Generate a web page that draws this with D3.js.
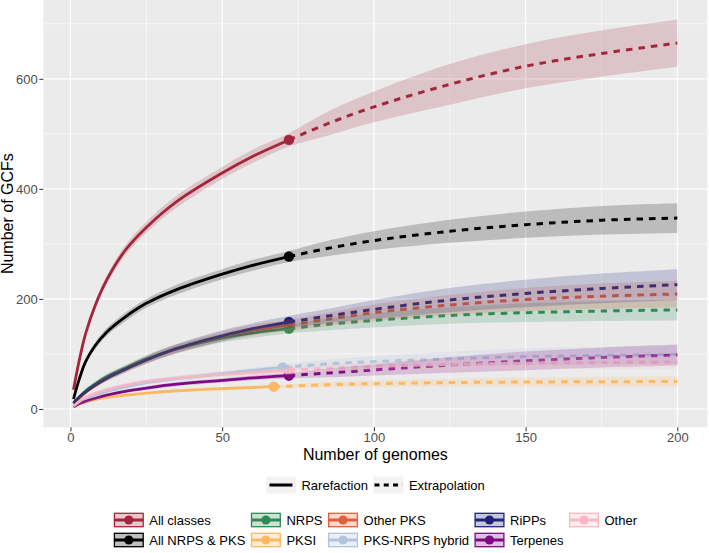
<!DOCTYPE html>
<html>
<head>
<meta charset="utf-8">
<script src="https://cdn.jsdelivr.net/npm/d3@7"></script>
<style>
body { margin: 0; background: #fff; }
text { font-family: "Liberation Sans", Arial, Helvetica, sans-serif; }
</style>
</head>
<body>
<div id="vis"></div>
<script>
// series, in legend order (column by column)
var seriesNames = ["All classes", "All NRPS & PKS", "NRPS", "PKSI", "Other PKS",
                   "PKS-NRPS hybrid", "RiPPs", "Terpenes", "Other"];
var seriesColors = ["#a3263c", "#000000", "#2e8b57", "#fdb862", "#e0603a",
                    "#b0c4de", "#1f2378", "#7d0a84", "#f9b8c4"];
var observedN = [72, 72, 72, 67, 72, 70, 72, 72, 72];

// genomes sampled: rarefaction points, then observed N, then extrapolation
var rareGenomes = [1, 3, 5, 8, 12, 18, 25, 35, 50, 60];
var extrapGenomes = [85, 100, 125, 150, 175, 200];

var allClassesY  = [35, 91, 137, 186, 235, 288, 330, 377, 429, 459, 489, 519, 549, 590, 623, 646, 665];
var allClassesLo = [32, 86, 131, 179, 227, 279, 320, 366, 418, 447, 477, 497, 521, 553, 583, 604, 622];
var allClassesHi = [38, 96, 143, 193, 243, 297, 340, 388, 440, 471, 501, 541, 577, 627, 663, 688, 708];

var allNrpsPksY  = [18, 56, 86, 114, 140, 167, 192, 217, 245, 261, 277, 292, 306, 323, 335, 343, 347];
var allNrpsPksLo = [16, 52, 81, 108, 133, 159, 184, 208, 236, 251, 267, 278, 289, 302, 311, 317, 320];
var allNrpsPksHi = [20, 60, 91, 120, 147, 175, 200, 226, 254, 271, 287, 306, 323, 344, 359, 369, 374];

var nrpsY  = [10, 22, 33, 45, 59, 74, 91, 109, 129, 138, 146, 154, 161, 170, 175, 178, 180];
var nrpsLo = [9, 20, 30, 41, 54, 68, 84, 101, 121, 129, 137, 143, 148, 155, 158, 160, 161];
var nrpsHi = [11, 24, 36, 49, 64, 80, 98, 117, 137, 147, 155, 165, 174, 185, 192, 196, 199];

var pksiY  = [3, 9, 13, 17, 21, 25, 29, 33, 37, 39, 40.5, 44, 46, 48, 49, 49.5, 50];
var pksiLo = [2, 8, 11.5, 15.5, 19, 23, 26.5, 30.5, 34, 36, 37.5, 39, 40, 41, 41, 40.5, 40.5];
var pksiHi = [4, 10, 14.5, 18.5, 23, 27, 31.5, 35.5, 40, 42, 43.5, 49, 52, 55, 57, 58.5, 59.5];

var otherPksY  = [9, 20, 30, 42, 56, 72, 89, 109, 132, 143, 152, 163, 175, 189, 199, 205, 209];
var otherPksLo = [8, 18, 27, 38, 51, 66, 82, 101, 123, 133, 142, 151, 160, 171, 178, 182, 185];
var otherPksHi = [10, 22, 33, 46, 61, 78, 96, 117, 141, 153, 162, 175, 190, 207, 220, 228, 233];

var hybridY  = [4, 12, 18, 25, 32, 40, 48, 55, 64, 70, 75.5, 82, 86, 91, 95, 97, 99];
var hybridLo = [3, 10, 16, 22, 29, 36, 44, 50, 59, 65, 69.5, 74, 76, 78, 80, 81, 82];
var hybridHi = [5, 14, 20, 28, 35, 44, 52, 60, 69, 75, 81.5, 90, 96, 104, 110, 113, 116];

var rippsY  = [11, 22, 31, 43, 56, 72, 89, 110, 133, 146, 158, 169, 181, 198, 210, 219, 226];
var rippsLo = [10, 20, 28, 39, 51, 66, 82, 102, 123, 136, 147, 156, 164, 176, 185, 192, 198];
var rippsHi = [12, 24, 34, 47, 61, 78, 96, 118, 143, 156, 169, 182, 198, 220, 235, 246, 254];

var terpenesY  = [4, 10, 14, 19, 25, 32, 38, 45, 52, 56.5, 60.5, 65.5, 71, 80, 87.5, 93.5, 98];
var terpenesLo = [3, 9, 12.5, 17, 23, 29.5, 35, 41.5, 48, 52, 55.5, 57.5, 61, 66, 70.5, 75.5, 79];
var terpenesHi = [5, 11, 15.5, 21, 27, 34.5, 41, 48.5, 56, 61, 65.5, 73.5, 81, 94, 104.5, 111.5, 117];

var otherY  = [5, 14, 21, 28, 35, 43, 50, 56, 63, 66, 70, 74, 77.5, 81, 83, 84.5, 85];
var otherLo = [4, 12, 19, 25, 32, 39, 46, 52, 58, 61, 65, 68, 69.5, 71, 72, 72.5, 73];
var otherHi = [6, 16, 23, 31, 38, 47, 54, 60, 68, 71, 75, 80, 85.5, 91, 94, 96.5, 97];

var xTicks = [0, 50, 100, 150, 200];
var xMinor = [25, 75, 125, 175];
var yTicks = [0, 200, 400, 600];
var yMinor = [100, 300, 500, 700];
var methodLabels = ["Rarefaction", "Extrapolation"];

var seriesY  = [allClassesY, allNrpsPksY, nrpsY, pksiY, otherPksY, hybridY, rippsY, terpenesY, otherY];
var seriesLo = [allClassesLo, allNrpsPksLo, nrpsLo, pksiLo, otherPksLo, hybridLo, rippsLo, terpenesLo, otherLo];
var seriesHi = [allClassesHi, allNrpsPksHi, nrpsHi, pksiHi, otherPksHi, hybridHi, rippsHi, terpenesHi, otherHi];

var w = 709;
var h = 553;
var panel = {left: 43.3, right: 707.5, top: 0, bottom: 427.3};
var midX = (panel.left + panel.right) / 2;

var svg = d3.select("#vis")
            .append("svg")
            .attr("width", w)
            .attr("height", h);

// build the series
var series = seriesNames.map(function(name, i) {
  var genomes = rareGenomes.concat([observedN[i]], extrapGenomes);
  var pts = genomes.map(function(g, j) {
    return {g: g, y: seriesY[i][j], lo: seriesLo[i][j], hi: seriesHi[i][j]};
  });
  var k = rareGenomes.length;
  return {name: name, color: seriesColors[i], pts: pts,
          rare: pts.slice(0, k + 1), extrap: pts.slice(k), obs: pts[k]};
});

// scales with ggplot-like 5% expansion
var xSpan = 200 - 1;
var x = d3.scaleLinear()
          .domain([1 - 0.05 * xSpan, 200 + 0.05 * xSpan])
          .range([panel.left, panel.right]);
var yMin = d3.min(seriesLo, function(a) { return d3.min(a); });
var yMax = d3.max(seriesHi, function(a) { return d3.max(a); });
var ySpan = yMax - yMin;
var y = d3.scaleLinear()
          .domain([yMin - 0.05 * ySpan, yMax + 0.05 * ySpan])
          .range([panel.bottom, panel.top]);

// panel + grid
svg.append("rect")
   .attr("x", panel.left).attr("y", panel.top)
   .attr("width", panel.right - panel.left)
   .attr("height", panel.bottom - panel.top)
   .attr("fill", "#ebebeb");

var grid = svg.append("g");
grid.selectAll(".xminor").data(xMinor).enter().append("line")
    .attr("x1", d => x(d)).attr("x2", d => x(d))
    .attr("y1", panel.top).attr("y2", panel.bottom)
    .attr("stroke", "#fff").attr("stroke-width", 0.6);
grid.selectAll(".yminor").data(yMinor).enter().append("line")
    .attr("y1", d => y(d)).attr("y2", d => y(d))
    .attr("x1", panel.left).attr("x2", panel.right)
    .attr("stroke", "#fff").attr("stroke-width", 0.6);
grid.selectAll(".xmajor").data(xTicks).enter().append("line")
    .attr("x1", d => x(d)).attr("x2", d => x(d))
    .attr("y1", panel.top).attr("y2", panel.bottom)
    .attr("stroke", "#fff").attr("stroke-width", 1.2);
grid.selectAll(".ymajor").data(yTicks).enter().append("line")
    .attr("y1", d => y(d)).attr("y2", d => y(d))
    .attr("x1", panel.left).attr("x2", panel.right)
    .attr("stroke", "#fff").attr("stroke-width", 1.2);

// axes
var xAxis = svg.append("g")
   .attr("transform", `translate(0,${panel.bottom})`)
   .call(d3.axisBottom(x).tickValues(xTicks).tickSize(4).tickPadding(1.3));
var yAxis = svg.append("g")
   .attr("transform", `translate(${panel.left},0)`)
   .call(d3.axisLeft(y).tickValues(yTicks).tickSize(4).tickPadding(1.5));
[xAxis, yAxis].forEach(function(a) {
  a.select(".domain").remove();
  a.selectAll(".tick line").attr("stroke", "#333").attr("stroke-width", 1);
  a.selectAll(".tick text").attr("fill", "#4d4d4d")
   .style("font-size", "13px").style("font-family", "Liberation Sans, Arial, sans-serif");
});

svg.append("text")
   .attr("x", midX).attr("y", 459.5)
   .attr("text-anchor", "middle")
   .style("font-size", "16px")
   .text("Number of genomes");
svg.append("text")
   .attr("transform", `translate(13,${(panel.top + panel.bottom) / 2}) rotate(-90)`)
   .attr("text-anchor", "middle")
   .style("font-size", "16px")
   .text("Number of GCFs");

// marks: points, then lines, then ribbons (ggiNEXT layer order)
var curve = d3.curveCatmullRom.alpha(0.5);
var line = d3.line().x(d => x(d.g)).y(d => y(d.y)).curve(curve);
var band = d3.area().x(d => x(d.g)).y0(d => y(d.lo)).y1(d => y(d.hi)).curve(curve);

var plot = svg.append("g");
plot.selectAll(".obs").data(series).enter().append("circle")
    .attr("cx", d => x(d.obs.g)).attr("cy", d => y(d.obs.y))
    .attr("r", 5.2).attr("fill", d => d.color);

series.forEach(function(s) {
  plot.append("path").attr("d", line(s.rare))
      .attr("fill", "none").attr("stroke", s.color).attr("stroke-width", 2.8);
  plot.append("path").attr("d", line(s.extrap))
      .attr("fill", "none").attr("stroke", s.color).attr("stroke-width", 3)
      .attr("stroke-dasharray", "6.5,6");
});

series.forEach(function(s) {
  plot.append("path").attr("d", band(s.pts))
      .attr("fill", s.color).attr("fill-opacity", 0.2);
});

// legend: line type
var keyW = 30, keyH = 17, gapKT = 5.5, gapTK = 5.5;
var lg1 = svg.append("g");
var lx = 0;
methodLabels.forEach(function(lab, i) {
  var g = lg1.append("g").attr("transform", `translate(${lx},0)`);
  g.append("rect").attr("x", 0).attr("y", -keyH / 2)
   .attr("width", keyW).attr("height", keyH).attr("fill", "#f2f2f2");
  var ln = g.append("line").attr("y1", 0).attr("y2", 0)
   .attr("stroke", "#000").attr("stroke-width", 3);
  if (i == 0) ln.attr("x1", 3.5).attr("x2", keyW - 3.5);
  else ln.attr("x1", 1).attr("x2", keyW - 1).attr("stroke-dasharray", "5,4.3");
  var t = g.append("text").attr("x", keyW + gapKT).attr("y", 4.7)
   .style("font-size", "13px").text(lab);
  lx += keyW + gapKT + t.node().getComputedTextLength() + gapTK;
});
lg1.attr("transform", `translate(${midX - (lx - gapTK) / 2},485)`);

// legend: classes, 2 rows filled column by column
var lg2 = svg.append("g");
var colX = 0;
for (var c = 0; c < Math.ceil(series.length / 2); c++) {
  var colW = 0;
  for (var r = 0; r < 2; r++) {
    var s = series[c * 2 + r];
    if (!s) continue;
    var g = lg2.append("g").attr("transform", `translate(${colX},${r * 20})`);
    g.append("rect").attr("x", 0.6).attr("y", -6.7)
     .attr("width", keyW - 1.2).attr("height", 13.4)
     .attr("fill", s.color).attr("fill-opacity", 0.25)
     .attr("stroke", s.color).attr("stroke-width", 1.3);
    g.append("line").attr("x1", 0.6).attr("x2", keyW - 0.6)
     .attr("stroke", s.color).attr("stroke-width", 3);
    g.append("circle").attr("cx", keyW / 2).attr("r", 4.6).attr("fill", s.color);
    var t = g.append("text").attr("x", keyW + gapKT).attr("y", 4.7)
     .style("font-size", "13px").text(s.name);
    colW = Math.max(colW, t.node().getComputedTextLength());
  }
  colX += keyW + gapKT + colW + gapTK;
}
lg2.attr("transform", `translate(${midX - (colX - gapTK) / 2},520)`);
</script>
</body>
</html>
